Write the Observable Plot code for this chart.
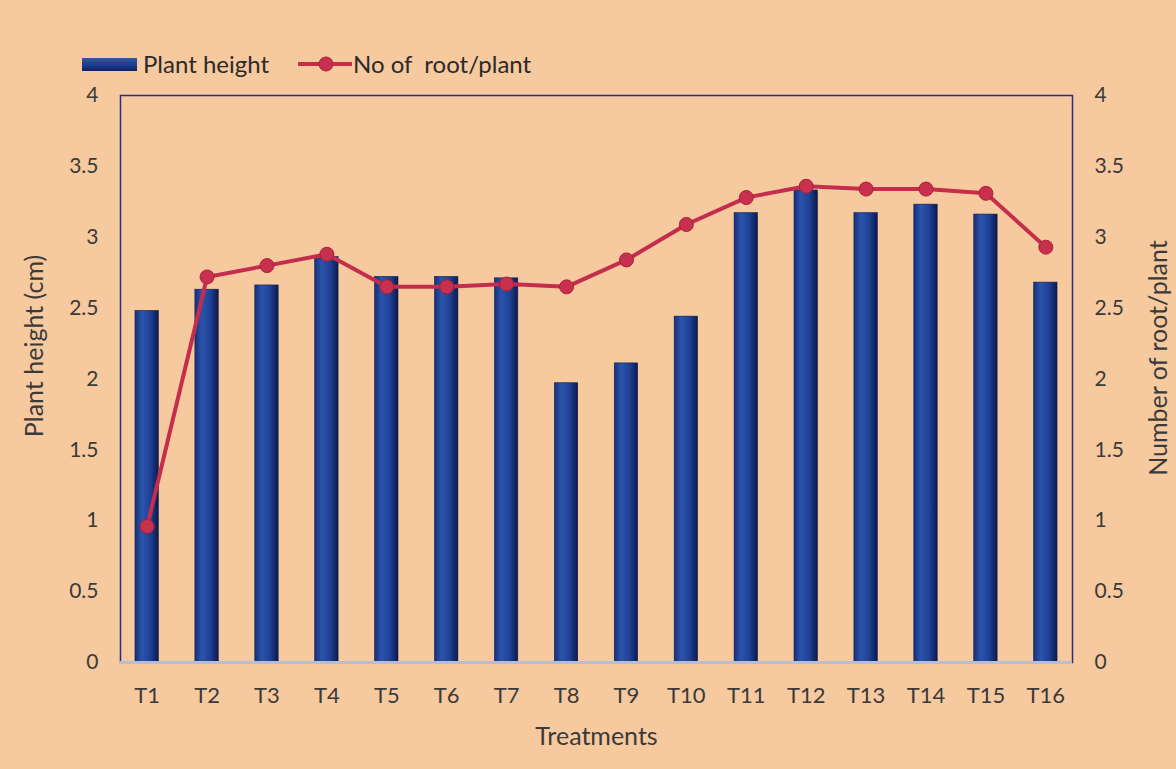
<!DOCTYPE html>
<html>
<head>
<meta charset="utf-8">
<script src="https://cdn.jsdelivr.net/npm/d3@7"></script>
<script src="https://cdn.jsdelivr.net/npm/@observablehq/plot@0.6"></script>
<style>
  html, body { margin: 0; padding: 0; background: #f6c99f; }
  #wrap { position: relative; width: 1176px; height: 769px; background: #f6c99f; font-family: Lato, "Open Sans", sans-serif; color: #333; }
  #legend { position: relative; height: 80px; width: 1176px; }
  .lg { position: absolute; font-size: 24px; white-space: pre; line-height: 1; color: #2a2a2a; }
</style>
</head>
<body>
<div id="wrap">
  <div id="legend">
    <div style="position:absolute;left:82px;top:58px;width:55px;height:13px;background:linear-gradient(180deg,#2d56ad 0%,#1b3a8a 60%,#0e2160 100%);"></div>
    <div class="lg" style="left:143px;top:52px;">Plant height</div>
    <svg style="position:absolute;left:296px;top:54px;" width="58" height="20">
      <line x1="2" y1="10" x2="56" y2="10" stroke="#c42e4c" stroke-width="4"/>
      <circle cx="30" cy="10" r="7" fill="#c9304e" stroke="#a8203c" stroke-width="1"/>
    </svg>
    <div class="lg" style="left:353px;top:52px;">No of  root/plant</div>
  </div>
  <div id="chart"></div>
</div>
<script>
const treatments = ["T1","T2","T3","T4","T5","T6","T7","T8","T9","T10","T11","T12","T13","T14","T15","T16"];
const plantHeight = [2.48,2.63,2.66,2.86,2.72,2.72,2.71,1.97,2.11,2.44,3.17,3.33,3.17,3.23,3.16,2.68];
const rootsPerPlant = [0.96,2.72,2.80,2.88,2.65,2.65,2.67,2.65,2.84,3.09,3.28,3.36,3.34,3.34,3.31,2.93];
const yTicks = [0,0.5,1,1.5,2,2.5,3,3.5,4];
const leftTitle = "Plant height (cm)";
const rightTitle = "Number of root/plant";
const xTitle = "Treatments";

const data = treatments.map((t, i) => ({t, h: plantHeight[i], r: rootsPerPlant[i]}));
const fmt = d => String(d);

const chart = Plot.plot({
  width: 1176,
  height: 689,
  marginTop: 15,
  marginBottom: 107,
  marginLeft: 120,
  marginRight: 104,
  style: {background: "transparent", fontFamily: "Lato, 'Open Sans', sans-serif", fontSize: "21px", color: "#3a3a3a"},
  x: {domain: treatments, paddingInner: 0.61, paddingOuter: 0.25, align: 0.5, round: false},
  y: {domain: [0, 4]},
  marks: [
    Plot.barY(data, {x: "t", y: "h", fill: "url(#barGrad)", stroke: "#0c1c50", strokeWidth: 0.6}),
    Plot.frame({stroke: "#2b2b88", strokeWidth: 1.5}),
    Plot.ruleY([0], {stroke: "#b8bdd3", strokeWidth: 3}),
    Plot.line(data, {x: "t", y: "r", stroke: "#c42e4c", strokeWidth: 4}),
    Plot.dot(data, {x: "t", y: "r", r: 7, fill: "#c9304e", stroke: "#a8203c", strokeWidth: 1}),
    Plot.axisX({tickSize: 0, tickPadding: 25, label: null, fontSize: 22}),
    Plot.axisY({anchor: "left", ticks: yTicks, tickFormat: fmt, tickSize: 0, tickPadding: 22, label: null, fontSize: 21}),
    Plot.axisY({anchor: "right", ticks: yTicks, tickFormat: fmt, tickSize: 0, tickPadding: 22, label: null, fontSize: 21}),
    Plot.text([xTitle], {frameAnchor: "bottom", dy: 82, fontSize: 25, fill: "#3a3a3a"}),
    Plot.text([leftTitle], {frameAnchor: "left", textAnchor: "middle", dx: -86, dy: -33, rotate: -90, fontSize: 25, fill: "#3a3a3a"}),
    Plot.text([rightTitle], {frameAnchor: "right", textAnchor: "middle", dx: 86, dy: -21, rotate: -90, fontSize: 25, fill: "#3a3a3a"})
  ]
});

const svg = d3.select(chart);
const defs = svg.insert("defs", ":first-child");
const g = defs.append("linearGradient").attr("id", "barGrad").attr("x1", "0").attr("x2", "1").attr("y1", "0").attr("y2", "0");
[["0%", "#16307a"], ["30%", "#2c54ab"], ["65%", "#1f4196"], ["100%", "#0b1a4c"]].forEach(([o, c]) =>
  g.append("stop").attr("offset", o).attr("stop-color", c));

document.getElementById("chart").appendChild(chart);
</script>
</body>
</html>
